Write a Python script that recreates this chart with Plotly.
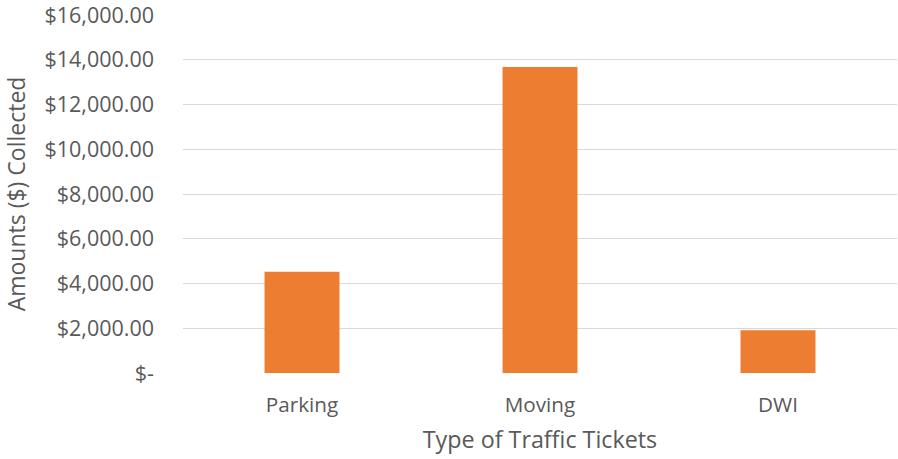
import plotly.graph_objects as go

# Amounts collected by ticket type
categories = ["Parking", "Moving", "DWI"]
amounts = [4520, 13680, 1910]

tick_values = [0, 2000, 4000, 6000, 8000, 10000, 12000, 14000, 16000]
tick_labels = ["$-", "$2,000.00", "$4,000.00", "$6,000.00", "$8,000.00",
               "$10,000.00", "$12,000.00", "$14,000.00", "$16,000.00"]

FONT = "Open Sans, Calibri, sans-serif"
TEXT = "#595959"

fig = go.Figure(
    go.Bar(x=categories, y=amounts, marker=dict(color="#ED7D31", line=dict(width=0)))
)

fig.update_layout(
    width=898,
    height=459,
    margin=dict(l=183, r=1, t=15, b=86),
    paper_bgcolor="white",
    plot_bgcolor="white",
    bargap=0.685,
    showlegend=False,
    font=dict(family=FONT, color=TEXT, size=21),
    xaxis=dict(
        showgrid=False,
        showline=False,
        ticks="",
        ticklabelstandoff=17,
        tickfont=dict(size=20.7, color=TEXT),
        title=dict(text="Type of Traffic Tickets", font=dict(size=23.3, color=TEXT), standoff=14),
        automargin=False,
    ),
    yaxis=dict(
        range=[0, 16000],
        tickvals=tick_values,
        ticktext=tick_labels,
        showgrid=True,
        gridcolor="#D9D9D9",
        gridwidth=1.3,
        zeroline=False,
        showline=False,
        ticks="",
        ticklabelstandoff=28,
        ticklabeloverflow="allow",
        tickfont=dict(size=21.5, color=TEXT),
        title=dict(text="Amounts ($) Collected", font=dict(size=23, color=TEXT), standoff=12),
        automargin=False,
    ),
)

fig.write_html("out.html")
